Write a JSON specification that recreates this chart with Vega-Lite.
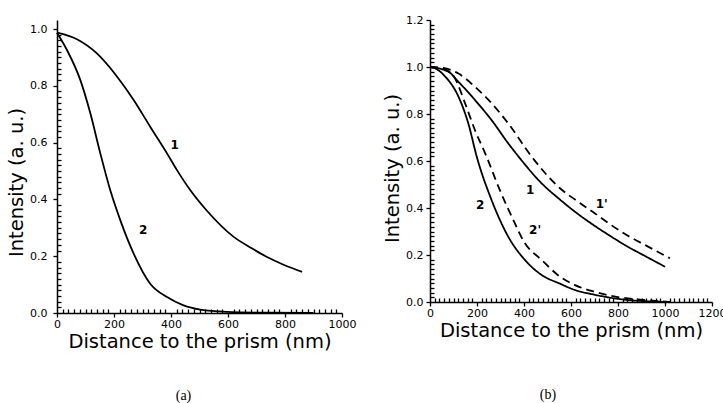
{
  "$schema": "https://vega.github.io/schema/vega-lite/v6.json",
  "padding": {"left": 6, "top": 14, "right": 0, "bottom": 0},
  "spacing": 26,
  "background": "white",
  "config": {
    "view": {"stroke": null},
    "font": "DejaVu Sans",
    "axis": {
      "grid": false,
      "domainColor": "black",
      "domainWidth": 1.5,
      "tickColor": "black",
      "tickWidth": 1.3,
      "labelColor": "black",
      "titleColor": "black",
      "labelFont": "DejaVu Sans",
      "titleFont": "DejaVu Sans",
      "labelFontSize": 11,
      "titleFontSize": 19.5,
      "titleFontWeight": "normal",
      "labelFlush": false,
      "labelOverlap": false
    }
  },
  "datasets": {
    "a": [
      {"c": "1", "x": 0, "y": 0.987},
      {"c": "1", "x": 70, "y": 0.964},
      {"c": "1", "x": 140, "y": 0.914},
      {"c": "1", "x": 211, "y": 0.832},
      {"c": "1", "x": 269, "y": 0.75},
      {"c": "1", "x": 327, "y": 0.656},
      {"c": "1", "x": 386, "y": 0.562},
      {"c": "1", "x": 421, "y": 0.503},
      {"c": "1", "x": 468, "y": 0.432},
      {"c": "1", "x": 526, "y": 0.36},
      {"c": "1", "x": 620, "y": 0.268},
      {"c": "1", "x": 680, "y": 0.23},
      {"c": "1", "x": 737, "y": 0.197},
      {"c": "1", "x": 795, "y": 0.17},
      {"c": "1", "x": 860, "y": 0.145},
      {"c": "2", "x": 0, "y": 0.987},
      {"c": "2", "x": 35, "y": 0.926},
      {"c": "2", "x": 82, "y": 0.82},
      {"c": "2", "x": 117, "y": 0.703},
      {"c": "2", "x": 152, "y": 0.562},
      {"c": "2", "x": 187, "y": 0.432},
      {"c": "2", "x": 222, "y": 0.327},
      {"c": "2", "x": 269, "y": 0.209},
      {"c": "2", "x": 327, "y": 0.103},
      {"c": "2", "x": 386, "y": 0.056},
      {"c": "2", "x": 444, "y": 0.027},
      {"c": "2", "x": 503, "y": 0.012},
      {"c": "2", "x": 596, "y": 0.004},
      {"c": "2", "x": 737, "y": 0.001},
      {"c": "2", "x": 900, "y": 0.0}
    ],
    "b": [
      {"c": "1", "s": "solid", "x": 0, "y": 1.0},
      {"c": "1", "s": "solid", "x": 78, "y": 0.98},
      {"c": "1", "s": "solid", "x": 121, "y": 0.937},
      {"c": "1", "s": "solid", "x": 191, "y": 0.86},
      {"c": "1", "s": "solid", "x": 262, "y": 0.774},
      {"c": "1", "s": "solid", "x": 333, "y": 0.675},
      {"c": "1", "s": "solid", "x": 383, "y": 0.611},
      {"c": "1", "s": "solid", "x": 475, "y": 0.505},
      {"c": "1", "s": "solid", "x": 553, "y": 0.436},
      {"c": "1", "s": "solid", "x": 617, "y": 0.384},
      {"c": "1", "s": "solid", "x": 695, "y": 0.328},
      {"c": "1", "s": "solid", "x": 767, "y": 0.281},
      {"c": "1", "s": "solid", "x": 837, "y": 0.238},
      {"c": "1", "s": "solid", "x": 920, "y": 0.193},
      {"c": "1", "s": "solid", "x": 1000, "y": 0.15},
      {"c": "1'", "s": "dashed", "x": 0, "y": 1.0},
      {"c": "1'", "s": "dashed", "x": 40, "y": 0.998},
      {"c": "1'", "s": "dashed", "x": 121, "y": 0.972},
      {"c": "1'", "s": "dashed", "x": 191, "y": 0.916},
      {"c": "1'", "s": "dashed", "x": 262, "y": 0.846},
      {"c": "1'", "s": "dashed", "x": 333, "y": 0.76},
      {"c": "1'", "s": "dashed", "x": 433, "y": 0.618},
      {"c": "1'", "s": "dashed", "x": 553, "y": 0.484},
      {"c": "1'", "s": "dashed", "x": 617, "y": 0.436},
      {"c": "1'", "s": "dashed", "x": 695, "y": 0.382},
      {"c": "1'", "s": "dashed", "x": 767, "y": 0.33},
      {"c": "1'", "s": "dashed", "x": 837, "y": 0.285},
      {"c": "1'", "s": "dashed", "x": 920, "y": 0.24},
      {"c": "1'", "s": "dashed", "x": 1021, "y": 0.186},
      {"c": "2", "s": "solid", "x": 0, "y": 1.0},
      {"c": "2", "s": "solid", "x": 30, "y": 0.99},
      {"c": "2", "s": "solid", "x": 64, "y": 0.96},
      {"c": "2", "s": "solid", "x": 121, "y": 0.874},
      {"c": "2", "s": "solid", "x": 163, "y": 0.76},
      {"c": "2", "s": "solid", "x": 199, "y": 0.618},
      {"c": "2", "s": "solid", "x": 262, "y": 0.434},
      {"c": "2", "s": "solid", "x": 333, "y": 0.278},
      {"c": "2", "s": "solid", "x": 404, "y": 0.179},
      {"c": "2", "s": "solid", "x": 475, "y": 0.115},
      {"c": "2", "s": "solid", "x": 553, "y": 0.078},
      {"c": "2", "s": "solid", "x": 617, "y": 0.051},
      {"c": "2", "s": "solid", "x": 695, "y": 0.032},
      {"c": "2", "s": "solid", "x": 837, "y": 0.009},
      {"c": "2", "s": "solid", "x": 1021, "y": 0.0},
      {"c": "2'", "s": "dashed", "x": 0, "y": 1.0},
      {"c": "2'", "s": "dashed", "x": 64, "y": 0.99},
      {"c": "2'", "s": "dashed", "x": 106, "y": 0.952},
      {"c": "2'", "s": "dashed", "x": 149, "y": 0.846},
      {"c": "2'", "s": "dashed", "x": 191, "y": 0.732},
      {"c": "2'", "s": "dashed", "x": 241, "y": 0.618},
      {"c": "2'", "s": "dashed", "x": 291, "y": 0.491},
      {"c": "2'", "s": "dashed", "x": 348, "y": 0.363},
      {"c": "2'", "s": "dashed", "x": 404, "y": 0.25},
      {"c": "2'", "s": "dashed", "x": 475, "y": 0.179},
      {"c": "2'", "s": "dashed", "x": 553, "y": 0.108},
      {"c": "2'", "s": "dashed", "x": 617, "y": 0.072},
      {"c": "2'", "s": "dashed", "x": 695, "y": 0.045},
      {"c": "2'", "s": "dashed", "x": 766, "y": 0.027},
      {"c": "2'", "s": "dashed", "x": 908, "y": 0.009},
      {"c": "2'", "s": "dashed", "x": 1021, "y": 0.0}
    ],
    "alab": [
      {"x": 413, "y": 0.593, "t": "1"},
      {"x": 302, "y": 0.291, "t": "2"}
    ],
    "blab": [
      {"x": 426, "y": 0.477, "t": "1"},
      {"x": 731, "y": 0.417, "t": "1'"},
      {"x": 213, "y": 0.413, "t": "2"},
      {"x": 447, "y": 0.306, "t": "2'"}
    ]
  },
  "hconcat": [
    {
      "width": 285,
      "height": 293,
      "title": {"text": "(a)", "orient": "bottom", "anchor": "middle", "frame": "group", "dx": -16, "offset": 38, "baseline": "top", "font": "Liberation Serif", "fontSize": 14, "fontWeight": "normal", "color": "black"},
      "layer": [
        {
          "data": {"name": "a"},
          "mark": {"type": "line", "interpolate": "monotone", "color": "black", "strokeWidth": 1.8},
          "encoding": {
            "x": {"field": "x", "type": "quantitative", "scale": {"domain": [0, 1000], "nice": false},
              "axis": {"orient": "bottom", "labelOverlap": false,
                "values": [0,20,40,60,80,100,120,140,160,180,200,220,240,260,280,300,320,340,360,380,400,420,440,460,480,500,520,540,560,580,600,620,640,660,680,700,720,740,760,780,800,820,840,860,880,900,920,940,960,980,1000],
                "labelExpr": "datum.value % 200 == 0 ? format(datum.value, 'd') : ''",
                "tickSize": {"condition": {"test": "datum.value % 200 == 0", "value": 4}, "value": -4},
                "labelPadding": 1, "title": "Distance to the prism (nm)", "titlePadding": 3}},
            "y": {"field": "y", "type": "quantitative", "scale": {"domain": [0, 1.0317], "nice": false},
              "axis": {"orient": "left", "labelOverlap": false,
                "values": [0,0.02,0.04,0.06,0.08,0.1,0.12,0.14,0.16,0.18,0.2,0.22,0.24,0.26,0.28,0.3,0.32,0.34,0.36,0.38,0.4,0.42,0.44,0.46,0.48,0.5,0.52,0.54,0.56,0.58,0.6,0.62,0.64,0.66,0.68,0.7,0.72,0.74,0.76,0.78,0.8,0.82,0.84,0.86,0.88,0.9,0.92,0.94,0.96,0.98,1.0],
                "labelExpr": "round(datum.value * 100) % 20 == 0 ? format(datum.value, '.1f') : ''",
                "tickSize": {"condition": {"test": "round(datum.value * 100) % 20 == 0", "value": 4}, "value": -4},
                "labelPadding": 6, "title": "Intensity (a. u.)", "titlePadding": 3, "titleY": 162}},
            "detail": {"field": "c"}
          }
        },
        {
          "data": {"name": "alab"},
          "mark": {"type": "text", "fontWeight": "bold", "fontSize": 12, "color": "black"},
          "encoding": {
            "x": {"field": "x", "type": "quantitative", "scale": {"domain": [0, 1000], "nice": false},
              "axis": {"orient": "bottom", "labelOverlap": false,
                "values": [0,20,40,60,80,100,120,140,160,180,200,220,240,260,280,300,320,340,360,380,400,420,440,460,480,500,520,540,560,580,600,620,640,660,680,700,720,740,760,780,800,820,840,860,880,900,920,940,960,980,1000],
                "labelExpr": "datum.value % 200 == 0 ? format(datum.value, 'd') : ''",
                "tickSize": {"condition": {"test": "datum.value % 200 == 0", "value": 4}, "value": -4},
                "labelPadding": 1, "title": "Distance to the prism (nm)", "titlePadding": 3}},
            "y": {"field": "y", "type": "quantitative", "scale": {"domain": [0, 1.0317], "nice": false},
              "axis": {"orient": "left", "labelOverlap": false,
                "values": [0,0.02,0.04,0.06,0.08,0.1,0.12,0.14,0.16,0.18,0.2,0.22,0.24,0.26,0.28,0.3,0.32,0.34,0.36,0.38,0.4,0.42,0.44,0.46,0.48,0.5,0.52,0.54,0.56,0.58,0.6,0.62,0.64,0.66,0.68,0.7,0.72,0.74,0.76,0.78,0.8,0.82,0.84,0.86,0.88,0.9,0.92,0.94,0.96,0.98,1.0],
                "labelExpr": "round(datum.value * 100) % 20 == 0 ? format(datum.value, '.1f') : ''",
                "tickSize": {"condition": {"test": "round(datum.value * 100) % 20 == 0", "value": 4}, "value": -4},
                "labelPadding": 6, "title": "Intensity (a. u.)", "titlePadding": 3, "titleY": 162}},
            "text": {"field": "t"}
          }
        }
      ]
    },
    {
      "width": 282,
      "height": 282,
      "title": {"text": "(b)", "orient": "bottom", "anchor": "middle", "frame": "group", "dx": -23, "offset": 48, "baseline": "top", "font": "Liberation Serif", "fontSize": 14, "fontWeight": "normal", "color": "black"},
      "layer": [
        {
          "data": {"name": "b"},
          "mark": {"type": "line", "interpolate": "monotone", "color": "black", "strokeWidth": 1.8},
          "encoding": {
            "x": {"field": "x", "type": "quantitative", "scale": {"domain": [0, 1200], "nice": false},
              "axis": {"orient": "bottom", "labelOverlap": false,
                "values": [0,20,40,60,80,100,120,140,160,180,200,220,240,260,280,300,320,340,360,380,400,420,440,460,480,500,520,540,560,580,600,620,640,660,680,700,720,740,760,780,800,820,840,860,880,900,920,940,960,980,1000,1020,1040,1060,1080,1100,1120,1140,1160,1180,1200],
                "labelExpr": "datum.value % 200 == 0 ? format(datum.value, 'd') : ''",
                "tickSize": {"condition": {"test": "datum.value % 200 == 0", "value": 4}, "value": -4},
                "labelPadding": 1, "title": "Distance to the prism (nm)", "titlePadding": 3}},
            "y": {"field": "y", "type": "quantitative", "scale": {"domain": [0, 1.2], "nice": false},
              "axis": {"orient": "left", "labelOverlap": false,
                "values": [0,0.02,0.04,0.06,0.08,0.1,0.12,0.14,0.16,0.18,0.2,0.22,0.24,0.26,0.28,0.3,0.32,0.34,0.36,0.38,0.4,0.42,0.44,0.46,0.48,0.5,0.52,0.54,0.56,0.58,0.6,0.62,0.64,0.66,0.68,0.7,0.72,0.74,0.76,0.78,0.8,0.82,0.84,0.86,0.88,0.9,0.92,0.94,0.96,0.98,1.0,1.02,1.04,1.06,1.08,1.1,1.12,1.14,1.16,1.18,1.2],
                "labelExpr": "round(datum.value * 100) % 20 == 0 ? format(datum.value, '.1f') : ''",
                "tickSize": {"condition": {"test": "round(datum.value * 100) % 20 == 0", "value": 4}, "value": -4},
                "labelPadding": 3, "title": "Intensity (a. u.)", "titlePadding": 3, "titleY": 148}},
            "detail": {"field": "c"},
            "strokeDash": {"field": "s", "type": "nominal", "scale": {"domain": ["solid", "dashed"], "range": [[1, 0], [8, 5]]}, "legend": null}
          }
        },
        {
          "data": {"name": "blab"},
          "mark": {"type": "text", "fontWeight": "bold", "fontSize": 12, "color": "black"},
          "encoding": {
            "x": {"field": "x", "type": "quantitative", "scale": {"domain": [0, 1200], "nice": false},
              "axis": {"orient": "bottom", "labelOverlap": false,
                "values": [0,20,40,60,80,100,120,140,160,180,200,220,240,260,280,300,320,340,360,380,400,420,440,460,480,500,520,540,560,580,600,620,640,660,680,700,720,740,760,780,800,820,840,860,880,900,920,940,960,980,1000,1020,1040,1060,1080,1100,1120,1140,1160,1180,1200],
                "labelExpr": "datum.value % 200 == 0 ? format(datum.value, 'd') : ''",
                "tickSize": {"condition": {"test": "datum.value % 200 == 0", "value": 4}, "value": -4},
                "labelPadding": 1, "title": "Distance to the prism (nm)", "titlePadding": 3}},
            "y": {"field": "y", "type": "quantitative", "scale": {"domain": [0, 1.2], "nice": false},
              "axis": {"orient": "left", "labelOverlap": false,
                "values": [0,0.02,0.04,0.06,0.08,0.1,0.12,0.14,0.16,0.18,0.2,0.22,0.24,0.26,0.28,0.3,0.32,0.34,0.36,0.38,0.4,0.42,0.44,0.46,0.48,0.5,0.52,0.54,0.56,0.58,0.6,0.62,0.64,0.66,0.68,0.7,0.72,0.74,0.76,0.78,0.8,0.82,0.84,0.86,0.88,0.9,0.92,0.94,0.96,0.98,1.0,1.02,1.04,1.06,1.08,1.1,1.12,1.14,1.16,1.18,1.2],
                "labelExpr": "round(datum.value * 100) % 20 == 0 ? format(datum.value, '.1f') : ''",
                "tickSize": {"condition": {"test": "round(datum.value * 100) % 20 == 0", "value": 4}, "value": -4},
                "labelPadding": 3, "title": "Intensity (a. u.)", "titlePadding": 3, "titleY": 148}},
            "text": {"field": "t"}
          }
        }
      ]
    }
  ]
}
